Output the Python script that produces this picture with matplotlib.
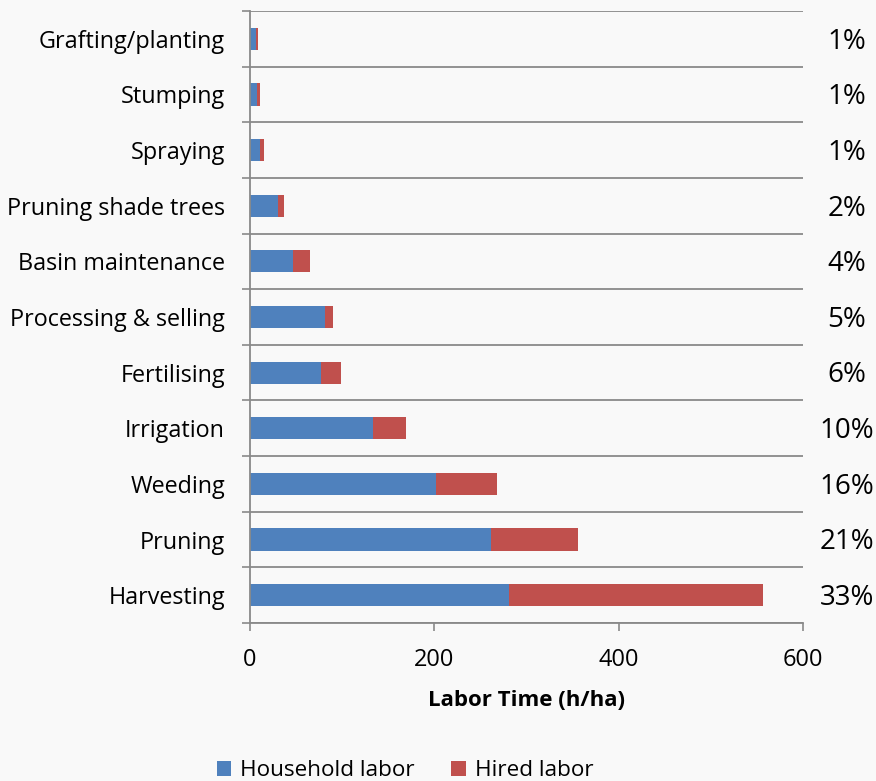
import matplotlib.pyplot as plt
import matplotlib.transforms as mtransforms
import numpy as np

plt.rcParams['font.family'] = ['Open Sans', 'DejaVu Sans']

tasks = ['Grafting/planting', 'Stumping', 'Spraying', 'Pruning shade trees',
         'Basin maintenance', 'Processing & selling', 'Fertilising',
         'Irrigation', 'Weeding', 'Pruning', 'Harvesting']
household = [7, 8, 11, 30, 47, 81, 77, 133, 202, 262, 281]
hired = [2, 3, 4, 7, 18, 9, 22, 36, 66, 94, 276]
shares = ['1%', '1%', '1%', '2%', '4%', '5%', '6%', '10%', '16%', '21%', '33%']

blue = '#4f81bd'
red = '#c0504d'
grid = '#8a8a8a'
bg = '#f9f9f9'


def main():
    fig = plt.figure(figsize=(8.76, 7.81), dpi=100, facecolor=bg)
    ax = fig.add_axes([0.2854, 0.2023, 0.6313, 0.7836], facecolor=bg)

    y = np.arange(len(tasks))
    ax.barh(y, household, height=0.4, color=blue, label='Household labor')
    ax.barh(y, hired, left=household, height=0.4, color=red, label='Hired labor')

    ax.set_xlim(0, 600)
    ax.set_ylim(len(tasks) - 0.5, -0.5)
    ax.set_xticks([0, 200, 400, 600])
    ax.set_yticks(y)
    ax.set_yticklabels(tasks, fontsize=16.8)
    ax.set_yticks(np.arange(len(tasks) + 1) - 0.5, minor=True)
    ax.tick_params(axis='y', which='major', length=0, pad=18)
    ax.tick_params(axis='y', which='minor', length=6, width=1.2, color=grid)
    ax.tick_params(axis='x', length=6, width=1.2, color=grid, labelsize=17, pad=12)
    ax.grid(axis='y', which='minor', color=grid, linewidth=1.3)
    ax.set_axisbelow(True)

    for side in ['top', 'right']:
        ax.spines[side].set_visible(False)
    for side in ['left', 'bottom']:
        ax.spines[side].set_color(grid)
        ax.spines[side].set_linewidth(1.3)

    ax.set_xlabel('Labor Time (h/ha)', fontsize=16, fontweight='bold', labelpad=13)

    # percent share labels right of the plot
    trans = mtransforms.blended_transform_factory(fig.transFigure, ax.transData)
    for i, s in enumerate(shares):
        ax.text(847 / 876, i + 0.05, s, transform=trans, fontsize=20,
                ha='center', va='center', clip_on=False)

    fig.legend(loc='center', bbox_to_anchor=(405 / 876, 1 - 771 / 781), ncol=2,
               frameon=False, fontsize=16.2, handlelength=0.65, handleheight=0.65,
               handletextpad=0.4, columnspacing=1.6)

    fig.savefig('out.png', dpi=100, facecolor=bg)


if __name__ == "__main__":
    main()
